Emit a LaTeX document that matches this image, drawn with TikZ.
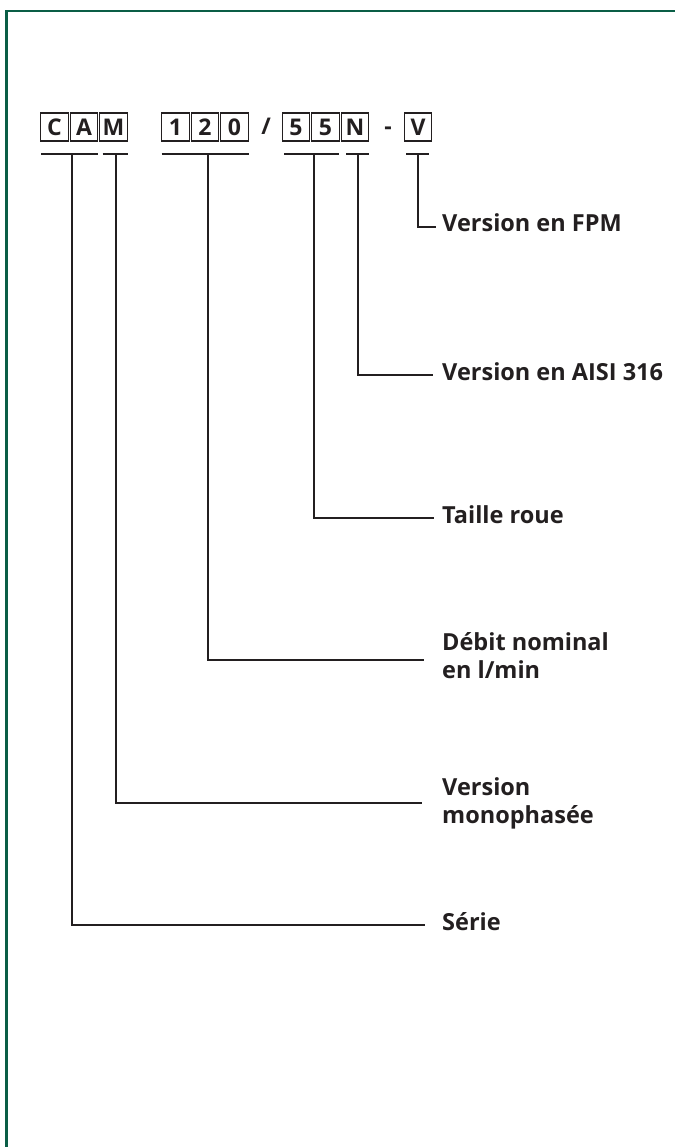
\documentclass[tikz,border=0pt]{standalone}
\usepackage{fontspec}
\setsansfont{Open Sans}
\usetikzlibrary{positioning}
\definecolor{framegreen}{RGB}{10,94,70}
\definecolor{ink}{RGB}{35,31,32}

\begin{document}
\begin{tikzpicture}[x=1pt,y=-1pt,ink,node distance=2pt,
                    font=\sffamily\bfseries\fontsize{23}{23}\selectfont]

  \tikzstyle{digit} = [draw,line width=1.3pt,outer sep=0pt,inner sep=0pt,
                       minimum width=27.5pt,minimum height=28pt]
  \tikzstyle{descr} = [anchor=base west,inner sep=0pt,align=left,
                       font=\sffamily\bfseries\fontsize{23.5}{28}\selectfont]
  \tikzstyle{leader} = [line width=2pt]

  \useasboundingbox (0,0) rectangle (675,1147);
  \draw[framegreen,line width=2.5pt] (6.5,1147) -- (6.5,11) -- (675,11);

  % type code
  \node[digit] (C)                     at (54.5,127) {C};
  \node[digit] (A)     [right=of C]                  {A};
  \node[digit] (M)     [right=of A]                  {M};
  \node[digit] (one)                   at (175.5,127) {1};
  \node[digit] (two)   [right=of one]                {2};
  \node[digit] (zero)  [right=of two]                {0};
  \node[anchor=base] (slash)           at (266,135)  {/};
  \node[digit] (fiveA)                 at (296,127)  {5};
  \node[digit] (fiveB) [right=of fiveA]              {5};
  \node[digit] (N)     [right=of fiveB]              {N};
  \node[anchor=base] (dash)            at (388,135)  {-};
  \node[digit] (V)                     at (418,127)  {V};

  % underlines
  \draw[leader] (41,154) -- (98,154);
  \draw[leader] (102.5,154) -- (128,154);
  \draw[leader] (161.5,154) -- (248.5,154);
  \draw[leader] (284,154) -- (339,154);
  \draw[leader] (346,154) -- (369,154);
  \draw[leader] (406,154) -- (429,154);

  \coordinate (uCA)  at (72,154);
  \coordinate (uM)   at (115.5,154);
  \coordinate (uNum) at (207.5,154);
  \coordinate (uFiv) at (313.5,154);
  \coordinate (uN)   at (357.5,154);
  \coordinate (uV)   at (418,154);

  % meanings (base = last line)
  \node[descr] (fpm)   at (442,232) {Version en FPM};
  \node[descr] (aisi)  at (442,380) {Version en AISI 316};
  \node[descr] (roue)  at (442,523) {Taille roue};
  \node[descr] (debit) at (442,678) {Débit nominal\\en l/min};
  \node[descr] (mono)  at (442,823) {Version\\monophasée};
  \node[descr] (serie) at (442,930) {Série};

  \draw[leader] (uV)   |- ([xshift=-6pt,yshift=5pt]fpm.base west);
  \draw[leader] (uN)   |- ([xshift=-9pt,yshift=5pt]aisi.base west);
  \draw[leader] (uFiv) |- ([xshift=-8pt,yshift=5pt]roue.base west);
  \draw[leader] (uNum) |- ([xshift=-18pt,yshift=18pt]debit.base west);
  \draw[leader] (uM)   |- ([xshift=-20pt,yshift=20pt]mono.base west);
  \draw[leader] (uCA)  |- ([xshift=-17pt,yshift=5pt]serie.base west);
\end{tikzpicture}
\end{document}
